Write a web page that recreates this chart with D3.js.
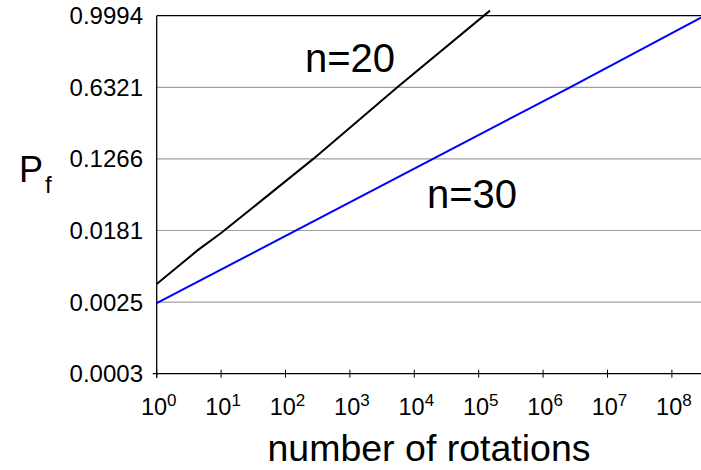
<!DOCTYPE html>
<html>
<head>
<meta charset="utf-8">
<script src="https://cdn.jsdelivr.net/npm/d3@7"></script>
<style>
  body { margin: 0; background: #fff; }
  svg text { font-family: "Liberation Sans", Arial, sans-serif; fill: #000; }
</style>
</head>
<body>
<svg id="chart" width="701" height="470"></svg>
<script>
// Data
var rotations20 = [1, 4.4, 10, 270, 5450, 149600];
var pf20 = [0.0041, 0.0106, 0.0169, 0.1266, 0.6321, 0.9998];

var rotations30 = [1, 2.62e6, 2.83e8];
var pf30 = [0.0024, 0.6321, 0.9991];

// y ticks sit at ln(-ln(1-P)) = -8, -6, ... 2
var yTickLabels = ['0.0003', '0.0025', '0.0181', '0.1266', '0.6321', '0.9994'];
var yTickVals = [-8, -6, -4, -2, 0, 2];
var xTickPowers = [0, 1, 2, 3, 4, 5, 6, 7, 8];

var svg = d3.select('#chart');

// weibull transform for P
function wb (p) { return Math.log(-Math.log(1 - p)); }

var x = d3.scaleLog()
  .domain([1, Math.pow(10, 8.452)])
  .range([156.7, 701]);

var y = d3.scaleLinear()
  .domain([-8, 2])
  .range([373.7, 15.7]);

// gridlines
svg.append('g')
  .selectAll('line')
  .data(yTickVals.slice(1, 5))
  .enter().append('line')
  .attr('x1', x(1)).attr('x2', 701)
  .attr('y1', function (d) { return y(d); })
  .attr('y2', function (d) { return y(d); })
  .attr('stroke', '#a0a0a0')
  .attr('stroke-width', 1.2);

// top border
svg.append('line')
  .attr('x1', x(1)).attr('x2', 701)
  .attr('y1', y(2)).attr('y2', y(2))
  .attr('stroke', '#000').attr('stroke-width', 1.3);

// y axis line
svg.append('line')
  .attr('x1', x(1)).attr('x2', x(1))
  .attr('y1', y(2)).attr('y2', y(-8) + 4)
  .attr('stroke', '#000').attr('stroke-width', 1.3);

// x axis line + cross ticks
svg.append('line')
  .attr('x1', x(1) - 4).attr('x2', 701)
  .attr('y1', y(-8)).attr('y2', y(-8))
  .attr('stroke', '#000').attr('stroke-width', 1.3);

svg.append('g')
  .selectAll('line')
  .data(xTickPowers)
  .enter().append('line')
  .attr('x1', function (d) { return x(Math.pow(10, d)); })
  .attr('x2', function (d) { return x(Math.pow(10, d)); })
  .attr('y1', y(-8) - 4).attr('y2', y(-8) + 4)
  .attr('stroke', '#000').attr('stroke-width', 1);

// x tick labels 10^n
var xl = svg.append('g')
  .selectAll('text')
  .data(xTickPowers)
  .enter().append('text')
  .attr('x', function (d) { return x(Math.pow(10, d)) + 2; })
  .attr('y', 415)
  .attr('text-anchor', 'middle')
  .style('font-size', '23.5px');
xl.append('tspan').text('10');
xl.append('tspan')
  .attr('dy', -9)
  .style('font-size', '17px')
  .text(function (d) { return d; });

// y tick labels
svg.append('g')
  .selectAll('text')
  .data(yTickVals)
  .enter().append('text')
  .attr('x', 143)
  .attr('y', function (d) { return y(d) + 8.5; })
  .attr('text-anchor', 'end')
  .style('font-size', '24px')
  .text(function (d, i) { return yTickLabels[i]; });

// lines
var line = d3.line()
  .x(function (d) { return x(d[0]); })
  .y(function (d) { return y(wb(d[1])); });

svg.append('path')
  .datum(d3.zip(rotations20, pf20))
  .attr('d', line)
  .attr('fill', 'none')
  .attr('stroke', '#000')
  .attr('stroke-width', 2);

svg.append('path')
  .datum(d3.zip(rotations30, pf30))
  .attr('d', line)
  .attr('fill', 'none')
  .attr('stroke', '#0000ff')
  .attr('stroke-width', 2);

// labels
svg.append('text').attr('x', 305).attr('y', 71.7)
  .style('font-size', '40px').text('n=20');
svg.append('text').attr('x', 427).attr('y', 208.3)
  .style('font-size', '40px').text('n=30');

svg.append('text').attr('x', 19).attr('y', 181.7)
  .style('font-size', '36px').text('P');
svg.append('text').attr('x', 45).attr('y', 193)
  .style('font-size', '24px').text('f');

svg.append('text').attr('x', 429).attr('y', 461)
  .attr('text-anchor', 'middle')
  .style('font-size', '37.5px').text('number of rotations');
</script>
</body>
</html>
